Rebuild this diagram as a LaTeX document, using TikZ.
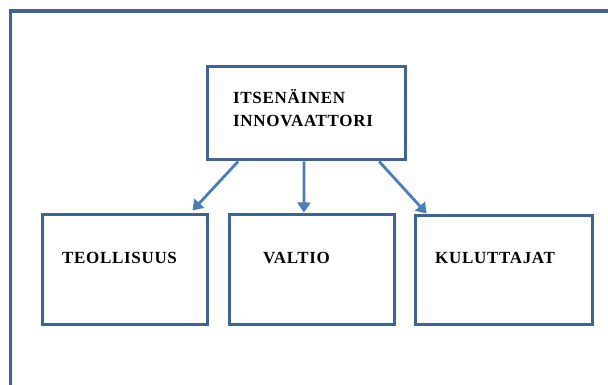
\documentclass[tikz,border=0pt]{standalone}
\usepackage{fontspec}
\setmainfont{Liberation Serif}[LetterSpace=4]
\usetikzlibrary{arrows.meta,calc}
\definecolor{frameblue}{HTML}{3D6494}
\definecolor{arrowblue}{HTML}{4A7EBB}
\tikzset{
  box/.style={draw=frameblue, line width=3pt, fill=white, inner sep=0pt},
  lbl/.style={font=\fontsize{17}{23}\selectfont\bfseries, inner sep=0pt, anchor=base west},
  link/.style={draw=arrowblue, line width=2.8pt,
    -{Triangle[length=10pt,width=13pt]}, shorten >=0pt}
}
\begin{document}
\begin{tikzpicture}[x=1pt,y=1pt]
  \useasboundingbox (0,0) rectangle (608,385);
  % outer frame (open towards the right and bottom edges)
  \draw[frameblue, line width=3.6pt] (10.5,0) -- (10.5,374) -- (608,374);

  % boxes
  \node[box, minimum width=198pt, minimum height=93pt] (top) at (306,271.5) {};
  \node[box, minimum width=165pt, minimum height=110pt] (b1) at (124.5,115) {};
  \node[box, minimum width=165pt, minimum height=110pt] (b2) at (311.5,115) {};
  \node[box, minimum width=177pt, minimum height=109pt] (b3) at (503.5,114.5) {};

  % labels
  \node[lbl] (t1) at (233,281) {ITSENÄINEN};
  \node[lbl] (t2) at (233,258) {INNOVAATTORI};
  \node[lbl] (l1) at (62,121) {TEOLLISUUS};
  \node[lbl] (l2) at (263,121) {VALTIO};
  \node[lbl] (l3) at (435,121) {KULUTTAJAT};

  % connectors
  \draw[link] ($(top.south west)!0.162!(top.south east)$)
           -- ($(b1.north west)!0.905!(b1.north east)+(0,3)$);
  \draw[link] ($(top.south west)!0.49!(top.south east)$)
           -- ($(b2.north west)!0.455!(b2.north east)+(0,1)$);
  \draw[link] ($(top.south west)!0.864!(top.south east)$)
           -- ($(b3.north west)!0.073!(b3.north east)+(0,1)$);
\end{tikzpicture}
\end{document}
